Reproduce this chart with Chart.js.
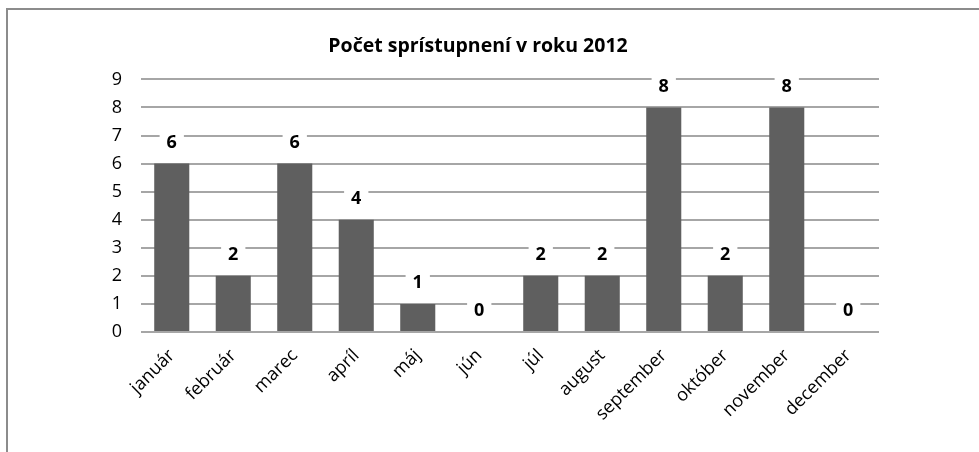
<!DOCTYPE html>
<html>
<head>
<meta charset="utf-8">
<script src="https://cdn.jsdelivr.net/npm/chart.js@4"></script>
<style>
  html, body { margin: 0; padding: 0; background: #fff; }
  #wrap { width: 979px; height: 452px; position: relative; }
</style>
</head>
<body>
<div id="wrap"><canvas id="accessChart" width="979" height="452"></canvas></div>
<script>
// data
const months = ['január', 'február', 'marec', 'apríl', 'máj', 'jún', 'júl', 'august', 'september', 'október', 'november', 'december'];
const counts = [6, 2, 6, 4, 1, 0, 2, 2, 8, 2, 8, 0];
const yTicks = [0, 1, 2, 3, 4, 5, 6, 7, 8, 9];
const chartTitle = 'Počet sprístupnení v roku 2012';

const fontFamily = "'Open Sans', 'Liberation Sans', sans-serif";

// gray frame round the chart (only left and top show in the original)
const framePlugin = {
    id: 'frame',
    beforeDraw(chart) {
        const ctx = chart.ctx;
        ctx.save();
        ctx.fillStyle = '#fff';
        ctx.fillRect(0, 0, chart.width, chart.height);
        ctx.strokeStyle = '#8c8c8c';
        ctx.lineWidth = 2;
        ctx.beginPath();
        ctx.moveTo(7, chart.height);
        ctx.lineTo(7, 9);
        ctx.lineTo(chart.width, 9);
        ctx.stroke();
        ctx.restore();
    }
};

// value labels above bars, with a white box so the grid breaks round them
const valueLabels = {
    id: 'valueLabels',
    afterDatasetsDraw(chart) {
        const ctx = chart.ctx;
        const meta = chart.getDatasetMeta(0);
        ctx.save();
        ctx.font = 'bold 18px ' + fontFamily;
        ctx.textAlign = 'center';
        ctx.textBaseline = 'middle';
        meta.data.forEach((bar, i) => {
            const txt = String(counts[i]);
            const x = bar.x;
            const y = bar.y - 22;
            const w = ctx.measureText(txt).width + 14;
            ctx.fillStyle = '#fff';
            ctx.fillRect(x - w / 2, y - 10, w, 20);
            ctx.fillStyle = '#000';
            ctx.fillText(txt, x, y + 1);
        });
        ctx.restore();
    }
};

new Chart(document.getElementById('accessChart'), {
    type: 'bar',
    data: {
        labels: months,
        datasets: [{
            data: counts,
            backgroundColor: '#5f5f5f',
            borderWidth: 0,
            barPercentage: 0.57,
            categoryPercentage: 1
        }]
    },
    options: {
        responsive: false,
        animation: false,
        layout: { padding: { left: 77, right: 100, top: 0, bottom: 0 } },
        plugins: {
            legend: { display: false },
            tooltip: { enabled: false },
            title: {
                display: true,
                text: chartTitle,
                color: '#000',
                font: { family: fontFamily, size: 19.5, weight: 'bold' },
                padding: { top: 35, bottom: 21 }
            }
        },
        scales: {
            x: {
                grid: { display: false },
                border: { display: false },
                ticks: {
                    color: '#000',
                    font: { family: fontFamily, size: 18 },
                    minRotation: 45,
                    maxRotation: 45,
                    padding: 5
                },
                afterFit(scale) { scale.height = 120; }
            },
            y: {
                min: 0,
                max: 9,
                afterBuildTicks(scale) { scale.ticks = yTicks.map(v => ({ value: v })); },
                grid: { color: '#a6a6a6', lineWidth: 2, drawTicks: false },
                border: { display: false },
                ticks: {
                    color: '#000',
                    font: { family: fontFamily, size: 18 },
                    padding: 19
                },
                afterFit(scale) { scale.width = 64; }
            }
        }
    },
    plugins: [framePlugin, valueLabels]
});
</script>
</body>
</html>
